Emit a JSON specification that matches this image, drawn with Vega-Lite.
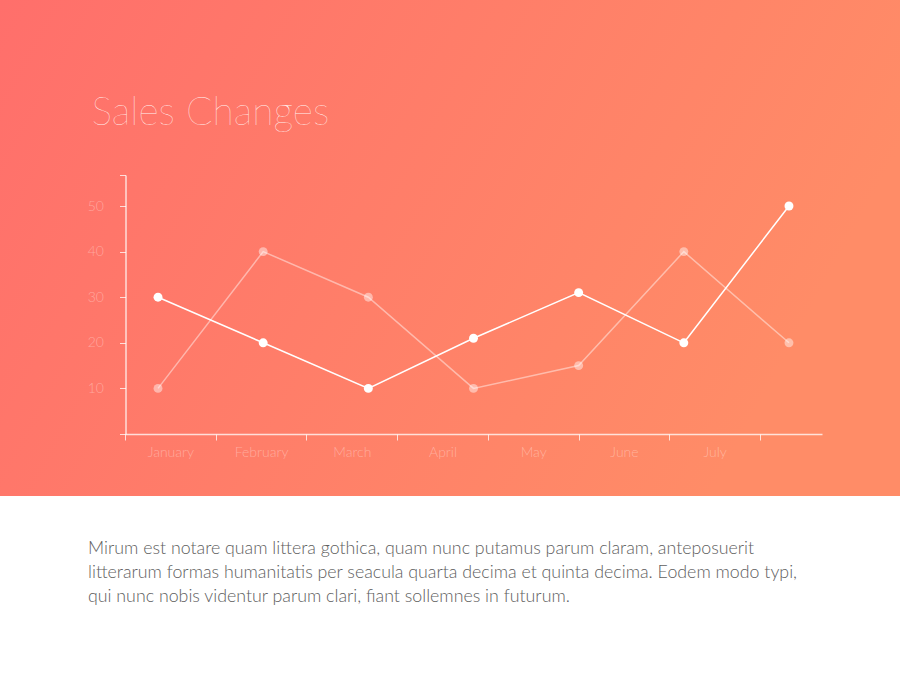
{
  "$schema": "https://vega.github.io/schema/vega-lite/v6.json",
  "width": 900,
  "height": 496,
  "autosize": {"type": "none"},
  "padding": {"left": 0, "top": 0, "right": 0, "bottom": 179},
  "background": "#ffffff",
  "view": {
    "stroke": null,
    "fill": {
      "gradient": "linear",
      "x1": 0, "y1": 0, "x2": 1, "y2": 0.3,
      "stops": [
        {"offset": 0, "color": "#ff6f6b"},
        {"offset": 1, "color": "#ff8c67"}
      ]
    }
  },
  "title": {
    "text": [
      "Mirum est notare quam littera gothica, quam nunc putamus parum claram, anteposuerit",
      "litterarum formas humanitatis per seacula quarta decima et quinta decima. Eodem modo typi,",
      "qui nunc nobis videntur parum clari, fiant sollemnes in futurum."
    ],
    "orient": "bottom",
    "anchor": "start",
    "frame": "group",
    "dx": 88,
    "offset": 44,
    "font": "Lato",
    "fontSize": 17.8,
    "fontWeight": 300,
    "color": "#606060",
    "lineHeight": 24
  },
  "config": {
    "axis": {"grid": false, "labelFont": "Lato", "labelFontWeight": 300}
  },
  "data": {
    "values": [
      {"month": "January", "series": "Series 1", "value": 30},
      {"month": "February", "series": "Series 1", "value": 20},
      {"month": "March", "series": "Series 1", "value": 10},
      {"month": "April", "series": "Series 1", "value": 21},
      {"month": "May", "series": "Series 1", "value": 31},
      {"month": "June", "series": "Series 1", "value": 20},
      {"month": "July", "series": "Series 1", "value": 50},
      {"month": "January", "series": "Series 2", "value": 10},
      {"month": "February", "series": "Series 2", "value": 40},
      {"month": "March", "series": "Series 2", "value": 30},
      {"month": "April", "series": "Series 2", "value": 10},
      {"month": "May", "series": "Series 2", "value": 15},
      {"month": "June", "series": "Series 2", "value": 40},
      {"month": "July", "series": "Series 2", "value": 20}
    ]
  },
  "resolve": {"scale": {"x": "independent"}, "axis": {"x": "independent"}},
  "layer": [
    {
      "mark": {"type": "point", "opacity": 0},
      "encoding": {
        "x": {
          "field": "month",
          "type": "nominal",
          "sort": ["January", "February", "March", "April", "May", "June", "July"],
          "scale": {"type": "band", "range": [125, 760], "paddingInner": 0, "paddingOuter": 0},
          "axis": {
            "orient": "bottom",
            "offset": -62,
            "title": null,
            "domain": false,
            "tickBand": "extent",
            "tickSize": 6,
            "tickColor": "rgba(255,255,255,0.75)",
            "labelAngle": 0,
            "labelColor": "rgba(255,255,255,0.35)",
            "labelFontSize": 14,
            "labelPadding": 5
          }
        }
      }
    },
    {
      "encoding": {
        "x": {
          "field": "month",
          "type": "nominal",
          "sort": ["January", "February", "March", "April", "May", "June", "July"],
          "scale": {"type": "point", "range": [125, 822], "padding": 0.314},
          "axis": {
            "orient": "bottom",
            "offset": -62,
            "title": null,
            "ticks": false,
            "labels": false,
            "domainColor": "rgba(255,255,255,0.75)",
            "domainWidth": 1.5
          }
        },
        "y": {
          "field": "value",
          "type": "quantitative",
          "scale": {"domain": [0, 56.8], "range": [434, 175], "nice": false},
          "axis": {
            "orient": "left",
            "offset": -125.5,
            "values": [0, 10, 20, 30, 40, 50, 56.8],
            "labelExpr": "datum.value == 0 || datum.value > 55 ? '' : datum.label",
            "tickSize": 6,
            "tickColor": "rgba(255,255,255,0.75)",
            "domainColor": "rgba(255,255,255,0.75)",
            "domainWidth": 1.5,
            "labelColor": "rgba(255,255,255,0.35)",
            "labelFontSize": 14,
            "labelPadding": 16,
            "title": "Sales Changes",
            "titleAngle": 0,
            "titleAlign": "left",
            "titleBaseline": "alphabetic",
            "titleX": -34.5,
            "titleY": 124,
            "titleFont": "Lato",
            "titleFontSize": 39,
            "titleFontWeight": 100,
            "titleColor": "rgba(255,255,255,0.9)"
          }
        },
        "color": {
          "field": "series",
          "type": "nominal",
          "scale": {"domain": ["Series 2", "Series 1"], "range": ["#ffffff", "#ffffff"]},
          "legend": null
        },
        "opacity": {
          "field": "series",
          "type": "nominal",
          "scale": {"domain": ["Series 2", "Series 1"], "range": [0.45, 1]},
          "legend": null
        }
      },
      "layer": [
        {"mark": {"type": "line", "strokeWidth": 1.5}},
        {"mark": {"type": "circle", "size": 80}}
      ]
    }
  ]
}
